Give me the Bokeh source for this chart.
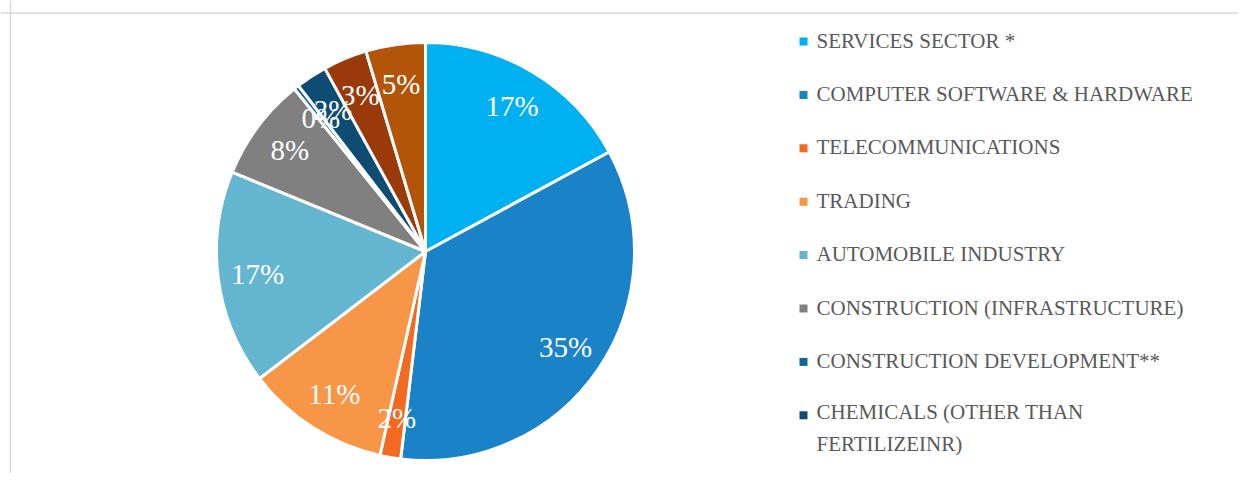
import math
from bokeh.plotting import figure
from bokeh.models import Range1d, Span, ColumnDataSource
from bokeh.core.properties import value
from bokeh.embed import file_html
from bokeh.resources import INLINE

# ---- data ----
categories = [
    "SERVICES SECTOR *",
    "COMPUTER SOFTWARE & HARDWARE",
    "TELECOMMUNICATIONS",
    "TRADING",
    "AUTOMOBILE INDUSTRY",
    "CONSTRUCTION (INFRASTRUCTURE)",
    "CONSTRUCTION DEVELOPMENT**",
    "CHEMICALS (OTHER THAN\nFERTILIZEINR)",
    "(category 9, not in legend)",
    "(category 10, not in legend)",
]
shares = [17.1, 34.8, 1.6, 11.1, 16.6, 8.0, 0.4, 2.4, 3.4, 4.6]
colors = ["#00B0F0", "#1A82C6", "#F26A21", "#F79646", "#64B5CF",
          "#808080", "#11698F", "#0E4C74", "#9A3A0B", "#B35508"]
legend_count = 8

# ---- layout constants ----
W, H = 1238, 473
X0, Y0 = 0, 0
cx, cy, R = 425, -251, 209
label_r = 0.81 * R

p = figure(width=W, height=H, output_backend="svg", toolbar_location=None,
           x_range=Range1d(X0, X0 + W), y_range=Range1d(-(Y0 + H), -Y0),
           min_border=0)
p.axis.visible = False
p.grid.visible = False
p.outline_line_color = None
p.background_fill_color = "white"
p.border_fill_color = "white"

# chart-area frame (top + left)
p.add_layout(Span(location=-12.5, dimension="width", line_color="#D9D9D9", line_width=1.5))
p.add_layout(Span(location=10, dimension="height", line_color="#D9D9D9", line_width=1.5))

total = sum(shares)
starts, ends, lx, ly, labels = [], [], [], [], []
cum = 0.0
for s in shares:
    a0 = cum / total * 2 * math.pi
    cum += s
    a1 = cum / total * 2 * math.pi
    starts.append(math.pi / 2 - a0)
    ends.append(math.pi / 2 - a1)
    mid = (a0 + a1) / 2
    lx.append(cx + label_r * math.sin(mid))
    ly.append(cy + label_r * math.cos(mid))
    labels.append(f"{round(s / total * 100):.0f}%")

src = ColumnDataSource(dict(start=starts, end=ends, color=colors,
                            lx=lx, ly=ly, label=labels,
                            x=[cx] * len(shares), y=[cy] * len(shares)))

p.wedge(x="x", y="y", radius=R, start_angle="start", end_angle="end",
        direction="clock", fill_color="color", line_color="white",
        line_width=3, source=src)

p.text(x="lx", y="ly", text="label", source=src, text_color="white",
       text_font=value("Liberation Serif"), text_font_size="29px",
       text_align="center", text_baseline="middle")

# legend (first 8 entries visible)
leg_y = []
for i in range(legend_count):
    nlines = categories[i].count("\n") + 1
    leg_y.append(-(40 + 53.4 * i) - 14 * (nlines - 1))
leg_src = ColumnDataSource(dict(
    mx=[803] * legend_count, my=[-(41 + 53.4 * i) for i in range(legend_count)],
    tx=[816] * legend_count, ty=leg_y,
    text=categories[:legend_count], color=colors[:legend_count]))
p.rect(x="mx", y="my", width=8, height=8, fill_color="color",
       line_color=None, source=leg_src)
p.text(x="tx", y="ty", text="text", source=leg_src, text_color="#595959",
       text_font=value("Liberation Serif"), text_font_size="21px",
       text_align="left", text_baseline="middle", text_line_height=1.35)

open("out.html", "w").write(file_html(p, INLINE))
